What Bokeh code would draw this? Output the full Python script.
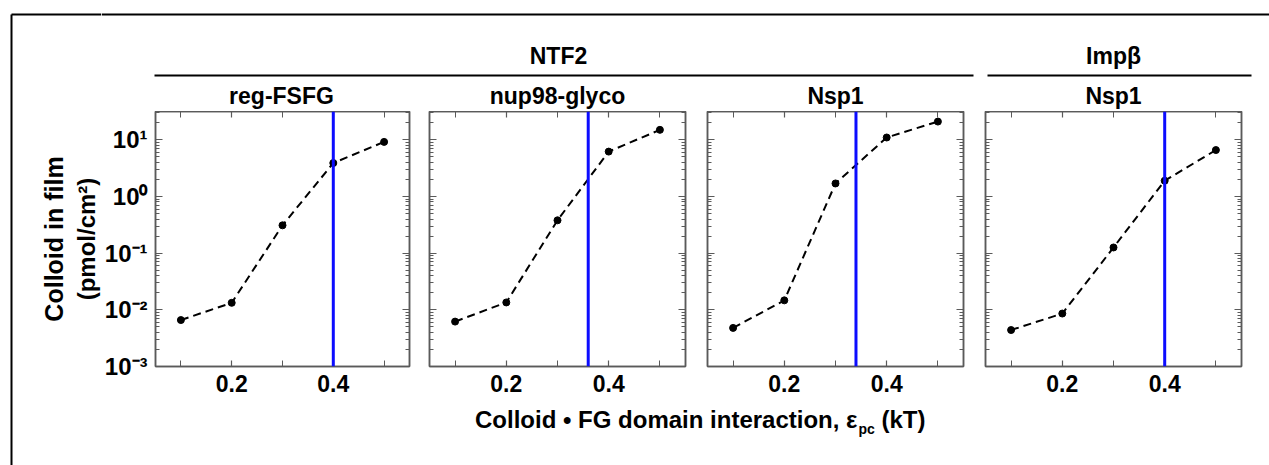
import math
from bokeh.plotting import figure
from bokeh.layouts import row, column
from bokeh.models import (Range1d, FixedTicker, LinearAxis, LogAxis, Span,
                          CustomJSTickFormatter)
from bokeh.embed import file_html
from bokeh.resources import INLINE
from bokeh.core.properties import value

# ---------------- data ----------------
eps_pc = [0.1, 0.2, 0.3, 0.4, 0.5]
ntf2_reg_fsfg = [0.0066, 0.0133, 0.31, 3.9, 9.2]
ntf2_nup98_glyco = [0.0062, 0.0135, 0.38, 6.2, 15.0]
ntf2_nsp1 = [0.0048, 0.0147, 1.7, 11.0, 21.0]
impb_nsp1 = [0.0044, 0.0086, 0.126, 1.9, 6.6]
series = [ntf2_reg_fsfg, ntf2_nup98_glyco, ntf2_nsp1, impb_nsp1]
transition_eps = [0.40, 0.36, 0.34, 0.40]
panel_titles = ["reg-FSFG", "nup98-glyco", "Nsp1", "Nsp1"]
group_titles = ["NTF2", "Impβ"]
x_ticks_major = [0.2, 0.4]
x_ticks_minor = [0.1, 0.3, 0.5]
y_ticks = [1e-3, 1e-2, 1e-1, 1.0, 10.0]
y_tick_labels = ["10⁻³", "10⁻²", "10⁻¹", "10⁰", "10¹"]
x_title_main = "Colloid • FG domain interaction, ε"
x_title_sub = "pc"
x_title_unit = "(kT)"
y_title_lines = ["Colloid in film", "(pmol/cm²)"]

# ---------------- style / layout ----------------
FONT = "Liberation Sans"
GRAY = "#5a5a5a"
W, H = 1269, 465
TOP_H = 111
ROW_H = 289
BOT_H = H - TOP_H - ROW_H
STRIP_W = 101
FRAME_W = 256
FRAME_H = 255
X_RANGE = (0.05, 0.55)
Y_RANGE = (1e-3, 10 ** 1.5)
borders = [(52, 10), (10, 11), (11, 11), (11, 28)]

frame_lefts = []
acc = STRIP_W
for bl, br in borders:
    frame_lefts.append(acc + bl)
    acc += bl + FRAME_W + br


def blank_fig(x0, w, h, y0=0):
    f = figure(width=w, height=h, x_range=Range1d(x0, x0 + w), y_range=Range1d(y0 + h, y0),
               toolbar_location=None, output_backend="svg",
               x_axis_location=None, y_axis_location=None, min_border=0)
    f.grid.visible = False
    f.outline_line_color = None
    f.background_fill_color = "white"
    f.border_fill_color = "white"
    return f


def txt(f, x, y, t, size, align="center", baseline="middle", angle=0.0):
    f.text(x=[x], y=[y], text=[t], text_align=align, text_baseline=baseline,
           text_font=value(FONT), text_font_style="bold",
           text_font_size=size, text_color="black", angle=angle)


# ---------- left column (frame lines + y title), full height ----------
lft = blank_fig(0, STRIP_W, H)
lft.line(x=[11, STRIP_W], y=[14, 14], line_color="black", line_width=2)
lft.line(x=[11, 11], y=[14, H], line_color="black", line_width=2)
yc = TOP_H + FRAME_H / 2
txt(lft, 53, yc, y_title_lines[0], "25px", angle=math.pi / 2)
txt(lft, 86, yc, y_title_lines[1], "24px", angle=math.pi / 2)

# ---------- header ----------
RW = W - STRIP_W
hdr = blank_fig(STRIP_W, RW, TOP_H)
hdr.line(x=[STRIP_W, W], y=[14, 14], line_color="black", line_width=2)
g1_l, g1_r = frame_lefts[0] + 1, frame_lefts[2] + FRAME_W + 10
g2_l, g2_r = frame_lefts[3] + 2, frame_lefts[3] + FRAME_W + 10
hdr.line(x=[g1_l, g1_r], y=[75, 75], line_color="black", line_width=2)
hdr.line(x=[g2_l, g2_r], y=[75, 75], line_color="black", line_width=2)
txt(hdr, (frame_lefts[0] + frame_lefts[2] + FRAME_W) / 2, 55, group_titles[0], "23px")
txt(hdr, frame_lefts[3] + FRAME_W / 2, 55, group_titles[1], "23px")
for i, t in enumerate(panel_titles):
    txt(hdr, frame_lefts[i] + FRAME_W / 2, 95, t, "23px")

# ---------- panels ----------
y_minor = [m * d for d in y_ticks for m in range(2, 10) if m * d <= Y_RANGE[1]]
blank_fmt = CustomJSTickFormatter(code="return ''")
panels = []
for i, ys in enumerate(series):
    bl, br = borders[i]
    p = figure(width=bl + FRAME_W + br, height=ROW_H,
               x_range=Range1d(*X_RANGE), y_range=Range1d(*Y_RANGE),
               y_axis_type="log", toolbar_location=None, output_backend="svg",
               x_axis_location=None, y_axis_location=None,
               min_border_left=bl, min_border_right=br,
               min_border_top=0, min_border_bottom=ROW_H - FRAME_H)
    p.grid.visible = False
    p.outline_line_color = GRAY
    p.outline_line_width = 1.5
    p.background_fill_color = "white"
    p.border_fill_color = "white"

    xt = FixedTicker(ticks=x_ticks_major, minor_ticks=x_ticks_minor)
    yt = FixedTicker(ticks=y_ticks, minor_ticks=y_minor)

    bottom = LinearAxis(ticker=xt)
    top = LinearAxis(ticker=xt, formatter=blank_fmt)
    left = LogAxis(ticker=yt)
    right = LogAxis(ticker=yt, formatter=blank_fmt)
    for ax in (bottom, top, left, right):
        ax.axis_line_color = GRAY
        ax.axis_line_width = 1.5
        ax.major_tick_line_color = GRAY
        ax.minor_tick_line_color = GRAY
        ax.major_tick_line_width = 1.2
        ax.minor_tick_line_width = 1.0
        ax.major_tick_out = 0
        ax.minor_tick_out = 0
        ax.major_label_text_font = FONT
        ax.major_label_text_font_style = "bold"
        ax.major_label_text_color = "black"
        ax.major_label_standoff = 0
    for ax in (bottom, top):
        ax.major_tick_in = 6
        ax.minor_tick_in = 6
    for ax in (left, right):
        ax.major_tick_in = 7
        ax.minor_tick_in = 4
    bottom.major_label_text_font_size = "23px"
    bottom.major_label_standoff = 8
    if i == 0:
        left.major_label_overrides = dict(zip(y_ticks, y_tick_labels))
        left.major_label_text_font_size = "24px"
        left.major_label_standoff = 8
    else:
        left.formatter = blank_fmt
    p.add_layout(bottom, "below")
    p.add_layout(top, "above")
    p.add_layout(left, "left")
    p.add_layout(right, "right")

    p.add_layout(Span(location=transition_eps[i], dimension="height",
                      line_color="#0c0cff", line_width=3))
    p.line(x=eps_pc, y=ys, line_color="black", line_width=2, line_dash="8 5")
    p.scatter(x=eps_pc, y=ys, size=7, color="black")
    panels.append(p)

# ---------- footer ----------
ftr = blank_fig(STRIP_W, RW, BOT_H)
anchor = 857
txt(ftr, anchor, 19, x_title_main, "24px", align="right")
txt(ftr, anchor + 1, 28, x_title_sub, "14px", align="left")
txt(ftr, anchor + 24, 19, x_title_unit, "24px", align="left")

right_block = column(hdr, row(*panels, spacing=0), ftr, spacing=0)
layout = row(lft, right_block, spacing=0)

with open("out.html", "w") as fh:
    fh.write(file_html(layout, INLINE))
